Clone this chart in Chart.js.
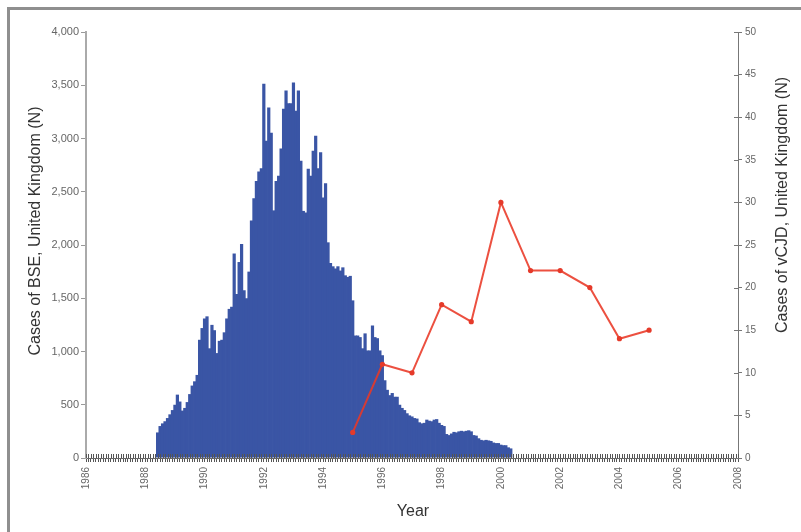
<!DOCTYPE html>
<html>
<head>
<meta charset="utf-8">
<script src="https://cdn.jsdelivr.net/npm/chart.js@4.4.1/dist/chart.umd.min.js"></script>
<style>
html,body{margin:0;padding:0;background:#fff;}
#wrap{position:relative;width:801px;height:532px;overflow:hidden;background:#fff;}
canvas{position:absolute;left:0;top:0;}
#frame{position:absolute;left:7px;top:7px;width:900px;height:700px;border-top:3px solid #8f8f8f;border-left:3px solid #8f8f8f;pointer-events:none;}
</style>
</head>
<body>
<div id="wrap"><canvas id="c" width="801" height="532"></canvas><div id="frame"></div></div>
<script>
// ---- data ----
const bseFirstYear = 1988;
const bseFirstMonth = 6; // June 1988
const bseCases = [
  // 1988 Jun-Dec
  240, 300, 325, 345, 375, 410, 450,
  // 1989
  500, 595, 530, 445, 470, 525, 600, 680, 720, 780, 1110, 1220,
  // 1990
  1310, 1330, 1030, 1250, 1200, 985, 1100, 1110, 1180, 1310, 1400, 1420,
  // 1991
  1920, 1540, 1840, 2010, 1575, 1500, 1750, 2230, 2440, 2600, 2690, 2720,
  // 1992
  3515, 2980, 3290, 3055, 2325, 2600, 2650, 2905, 3280, 3450, 3330, 3330,
  // 1993
  3525, 3260, 3450, 2790, 2320, 2305, 2715, 2650, 2885, 3025, 2720, 2870,
  // 1994
  2445, 2580, 2025, 1830, 1800, 1780, 1800, 1760, 1790, 1715, 1700, 1710,
  // 1995
  1480, 1150, 1150, 1135, 1030, 1170, 1010, 1010, 1245, 1135, 1125, 1010,
  // 1996
  965, 730, 640, 590, 610, 575, 575, 500, 470, 450, 420, 400,
  // 1997
  390, 375, 370, 335, 325, 330, 360, 350, 345, 360, 365, 330,
  // 1998
  310, 300, 225, 215, 230, 245, 240, 250, 255, 250, 255, 260,
  // 1999
  250, 215, 210, 185, 170, 165, 170, 165, 160, 145, 140, 140,
  // 2000 Jan-May
  125, 120, 120, 100, 90
];
const vcjdYears = [1995, 1996, 1997, 1998, 1999, 2000, 2001, 2002, 2003, 2004, 2005];
const vcjdCases = [3, 11, 10, 18, 16, 30, 22, 22, 20, 14, 15];
const xLabelYears = [1986, 1988, 1990, 1992, 1994, 1996, 1998, 2000, 2002, 2004, 2006, 2008];
const xFirstYear = 1986, xLastYear = 2008;
const leftTitle = 'Cases of BSE, United Kingdom (N)';
const rightTitle = 'Cases of vCJD, United Kingdom (N)';
const xTitle = 'Year';

const FAMILY = '"Liberation Sans", Arial, Helvetica, sans-serif';

const bseData = bseCases.map((v, i) => ({ x: bseFirstYear + (bseFirstMonth - 1 + i) / 12, y: v }));
const vcjdData = vcjdYears.map((yr, i) => ({ x: yr, y: vcjdCases[i] }));

const decor = {
  id: 'decor',
  afterDatasetsDraw(chart) {
    const { ctx, chartArea: a, scales } = chart;
    ctx.save();
    ctx.lineWidth = 1;
    ctx.strokeStyle = '#555';
    ctx.beginPath();
    scales.x.ticks.forEach(t => {
      const px = Math.round(scales.x.getPixelForValue(t.value)) + 0.5;
      ctx.moveTo(px, a.bottom - 4);
      ctx.lineTo(px, a.bottom);
    });
    ctx.stroke();
    ctx.strokeStyle = '#777';
    ctx.beginPath();
    scales.y2.ticks.forEach(t => {
      const py = Math.round(scales.y2.getPixelForValue(t.value)) + 0.5;
      ctx.moveTo(a.right - 4, py);
      ctx.lineTo(a.right, py);
    });
    ctx.stroke();
    ctx.restore();
  },
  afterDraw(chart) {
    const { ctx, chartArea: a } = chart;
    ctx.save();
    ctx.fillStyle = '#333';
    ctx.font = '16px ' + FAMILY;
    ctx.textAlign = 'center';
    ctx.textBaseline = 'alphabetic';
    ctx.save(); ctx.translate(39.5, 231); ctx.rotate(-Math.PI / 2); ctx.fillText(leftTitle, 0, 0); ctx.restore();
    ctx.save(); ctx.translate(787, 205); ctx.rotate(-Math.PI / 2); ctx.fillText(rightTitle, 0, 0); ctx.restore();
    ctx.fillText(xTitle, (a.left + a.right) / 2 + 1, 516);
    ctx.restore();
  }
};

new Chart(document.getElementById('c'), {
  type: 'bar',
  data: {
    datasets: [
      {
        type: 'line', label: 'vCJD', data: vcjdData, yAxisID: 'y2', xAxisID: 'x',
        borderColor: 'rgba(233,56,38,0.88)', backgroundColor: '#e53a2a',
        pointBackgroundColor: '#e53a2a', pointBorderColor: '#e53a2a',
        borderWidth: 2, pointRadius: 2.6, pointBorderWidth: 0, tension: 0, order: 0
      },
      {
        type: 'bar', label: 'BSE', data: bseData, yAxisID: 'y', xAxisID: 'x',
        backgroundColor: '#3a55a5', borderWidth: 0, barPercentage: 1.3, categoryPercentage: 1, order: 1
      }
    ]
  },
  options: {
    responsive: false, animation: false, devicePixelRatio: 1,
    layout: { padding: { top: 32, left: 0, right: 0, bottom: 0 } },
    plugins: { legend: { display: false }, tooltip: { enabled: false }, title: { display: false } },
    scales: {
      x: {
        type: 'linear', min: xFirstYear, max: xLastYear, offset: false,
        afterBuildTicks: s => {
          const t = [];
          for (let i = 0; i <= (xLastYear - xFirstYear) * 12; i++) t.push({ value: xFirstYear + i / 12 });
          s.ticks = t;
        },
        afterFit: s => { s.height = 74; },
        grid: { offset: false, drawOnChartArea: false, drawTicks: true, tickLength: 4, color: '#555', lineWidth: 1 },
        border: { display: true, color: '#666', width: 1 },
        ticks: {
          autoSkip: false, minRotation: 90, maxRotation: 90, padding: 5,
          font: { size: 10, family: FAMILY }, color: '#666',
          callback: v => {
            const r = Math.round(v);
            return (Math.abs(v - r) < 1e-6 && xLabelYears.includes(r)) ? String(r) : '';
          }
        }
      },
      y: {
        type: 'linear', position: 'left', min: 0, max: 4000,
        afterFit: s => { s.width = 86; },
        grid: { drawOnChartArea: false, drawTicks: true, tickLength: 5, color: '#999' },
        border: { display: true, color: '#aaa', width: 2 },
        ticks: { stepSize: 500, padding: 2, font: { size: 11, family: FAMILY }, color: '#666',
          callback: v => v.toLocaleString('en-US') }
      },
      y2: {
        type: 'linear', position: 'right', min: 0, max: 50,
        afterFit: s => { s.width = 63; },
        grid: { drawOnChartArea: false, drawTicks: true, tickLength: 4, color: '#777' },
        border: { display: true, color: '#777', width: 1 },
        ticks: { stepSize: 5, padding: 3, font: { size: 10, family: FAMILY }, color: '#666' }
      }
    }
  },
  plugins: [decor]
});
</script>
</body>
</html>
